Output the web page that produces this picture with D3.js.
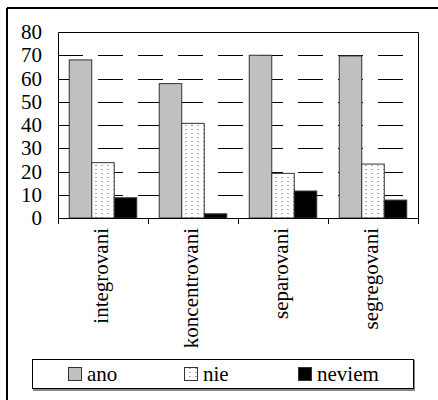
<!DOCTYPE html>
<html>
<head>
<meta charset="utf-8">
<script src="https://cdn.jsdelivr.net/npm/d3@7"></script>
<style>
  body { margin: 0; background: #fff; }
</style>
</head>
<body>
<svg width="438" height="400" font-family="Liberation Serif"></svg>
<script>
const categories = ["integrovani", "koncentrovani", "separovani", "segregovani"];
const seriesNames = ["ano", "nie", "neviem"];
const ano = [68, 57.8, 70, 69.7];
const nie = [23.8, 40.7, 19.2, 23.2];
const neviem = [8.7, 1.8, 11.6, 7.7];
const yTicks = [0, 10, 20, 30, 40, 50, 60, 70, 80];

const series = [ano, nie, neviem];
const fills = ["#c0c0c0", "url(#dots)", "#000"];
const serif = "Liberation Serif";

const margin = { top: 32, left: 58, right: 20, bottom: 182 },
    width = 438 - margin.left - margin.right,
    height = 400 - margin.top - margin.bottom;

const svg = d3.select("svg");

// dotted fill for "nie"
const pat = svg.append("defs").append("pattern")
    .attr("id", "dots")
    .attr("patternUnits", "userSpaceOnUse")
    .attr("width", 6).attr("height", 4);
pat.append("rect").attr("width", 6).attr("height", 4).attr("fill", "#fff");
pat.append("rect").attr("x", 1).attr("y", 1).attr("width", 2).attr("height", 1).attr("fill", "#a8a8a8");

// outer frame (only top and left show)
svg.append("line").attr("x1", 7).attr("y1", 8).attr("x2", 438).attr("y2", 8)
    .attr("stroke", "#000").attr("stroke-width", 2);
svg.append("line").attr("x1", 7).attr("y1", 8).attr("x2", 7).attr("y2", 400)
    .attr("stroke", "#000").attr("stroke-width", 2);

const g = svg.append("g")
    .attr("transform", "translate(" + margin.left + "," + margin.top + ")");

const x = d3.scaleBand().domain(categories).range([0, width]);
const x1 = d3.scaleBand().domain(seriesNames).range([0, x.bandwidth()]).paddingOuter(0.5);
const y = d3.scaleLinear().domain([0, 80]).range([height, 0]);

// dashed gridlines
g.selectAll(".grid")
    .data(yTicks.filter(d => d > 0 && d < 80))
    .enter().append("line")
    .attr("x1", 0).attr("x2", width)
    .attr("y1", d => Math.round(y(d)) + 0.5).attr("y2", d => Math.round(y(d)) + 0.5)
    .attr("stroke", "#000")
    .attr("stroke-dasharray", "25,15");

// frame top & right
g.append("path")
    .attr("d", "M0.5,0.5H" + (width + 0.5) + "V" + height)
    .attr("fill", "none").attr("stroke", "#000");

// bars
seriesNames.forEach((s, si) => {
    g.selectAll(".bar-" + s)
        .data(series[si])
        .enter().append("rect")
        .attr("x", (d, i) => x(categories[i]) + x1(s))
        .attr("y", d => y(d))
        .attr("width", x1.bandwidth())
        .attr("height", d => height - y(d))
        .attr("fill", fills[si])
        .attr("stroke", "#333")
        .attr("stroke-width", 1);
});

// y axis
const yAxis = g.append("g")
    .call(d3.axisLeft(y).tickValues(yTicks).tickSize(0).tickPadding(16))
    .attr("font-family", serif)
    .attr("font-size", 21);
yAxis.select(".domain").attr("stroke", "#000");
yAxis.selectAll("text").attr("fill", "#000");

// x axis with ticks on category boundaries
const xAxis = g.append("g").attr("transform", "translate(0," + height + ")");
xAxis.append("line").attr("x1", 0).attr("x2", width).attr("y1", 0.5).attr("y2", 0.5).attr("stroke", "#000");
xAxis.selectAll(".tk")
    .data(categories.concat(["end"]))
    .enter().append("line")
    .attr("x1", (d, i) => i < categories.length ? x(d) + 0.5 : width + 0.5)
    .attr("x2", (d, i) => i < categories.length ? x(d) + 0.5 : width + 0.5)
    .attr("y1", 0).attr("y2", 6)
    .attr("stroke", "#000");
xAxis.selectAll(".lbl")
    .data(categories)
    .enter().append("text")
    .attr("transform", d => "translate(" + (x(d) + x.bandwidth() / 2 - 2) + ",10)rotate(-90)")
    .attr("text-anchor", "end")
    .attr("dy", "0.33em")
    .attr("font-size", 21)
    .attr("font-family", serif)
    .text(d => d);

// legend
const legend = svg.append("g").attr("transform", "translate(32,359)");
legend.append("path").attr("d", "M382,1V31H1").attr("fill", "none")
    .attr("stroke", "#888").attr("stroke-width", 2);
legend.append("rect").attr("x", 0.5).attr("y", 0.5).attr("width", 381).attr("height", 29)
    .attr("fill", "#fff").attr("stroke", "#000");
const legX = [36, 152, 266];
seriesNames.forEach((s, i) => {
    legend.append("rect").attr("x", legX[i] + 0.5).attr("y", 8.5)
        .attr("width", 13).attr("height", 13)
        .attr("fill", fills[i]).attr("stroke", "#333");
    legend.append("text").attr("x", legX[i] + 19).attr("y", 22)
        .attr("font-size", 21).attr("font-family", serif).text(s);
});
</script>
</body>
</html>
